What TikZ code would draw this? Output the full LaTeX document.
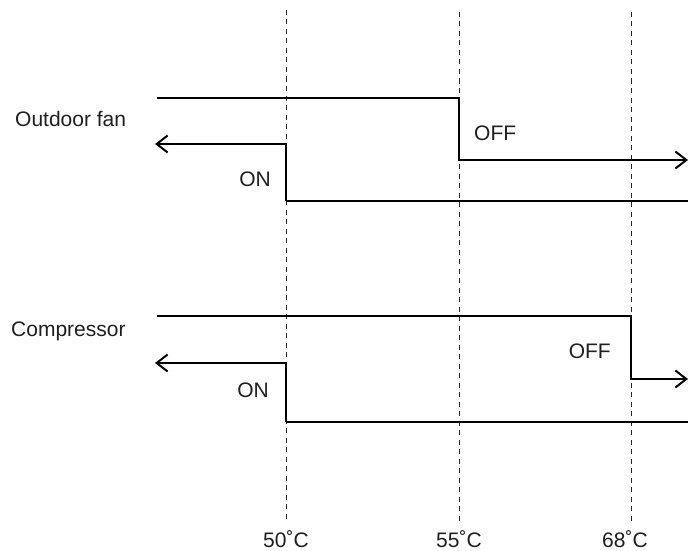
\documentclass[tikz,border=0pt]{standalone}
\usepackage{fontspec}
\setmainfont{Liberation Sans}
\usetikzlibrary{arrows.meta}
\begin{document}
\begin{tikzpicture}[x=1pt,y=-1pt,
  sig/.style={line width=2.2pt, line join=miter},
  sigarrow/.style={sig, -{Straight Barb[length=11pt,width=17pt,line width=2pt]}},
  guide/.style={line width=0.9pt, dash pattern=on 5pt off 4.5pt, color=black!85},
  lbl/.style={inner sep=0pt, font=\fontsize{21}{24}\selectfont, text=black!88}]
\useasboundingbox (0,0) rectangle (688,551);

% guide lines
\coordinate (g1t) at (286,10);  \coordinate (g1b) at (286,522);
\coordinate (g2t) at (459,12);  \coordinate (g2b) at (459,522);
\coordinate (g3t) at (631,12);  \coordinate (g3b) at (631,522);
\draw[guide] (g1t) -- (g1b);
\draw[guide] (g2t) -- (g2b);
\draw[guide] (g3t) -- (g3b);

% Outdoor fan
\coordinate (f1a) at (157,98);
\coordinate (f1b) at (459,98);
\coordinate (f1c) at (459,160);
\coordinate (f1d) at (688,160);
\draw[sigarrow] (f1a) -- (f1b) -- (f1c) -- (f1d);
\coordinate (f2a) at (286,144);
\coordinate (f2b) at (155,144);
\coordinate (f2c) at (286,201);
\coordinate (f2d) at (690,201);
\draw[sigarrow] (f2c) -- (f2a) -- (f2b);
\draw[sig] (f2c) -- (f2d);

% Compressor
\coordinate (c1a) at (157,316);
\coordinate (c1b) at (631,316);
\coordinate (c1c) at (631,379);
\coordinate (c1d) at (688,379);
\draw[sigarrow] (c1a) -- (c1b) -- (c1c) -- (c1d);
\coordinate (c2a) at (286,363);
\coordinate (c2b) at (155,363);
\coordinate (c2c) at (286,422);
\coordinate (c2d) at (690,422);
\draw[sigarrow] (c2c) -- (c2a) -- (c2b);
\draw[sig] (c2c) -- (c2d);

% labels
\node[lbl, anchor=base west] (fan) at (15,126.5) {Outdoor fan};
\node[lbl, anchor=base west] (comp) at (11,336.5) {Compressor};
\node[lbl, anchor=base east] (on1) at (271,186) {ON};
\node[lbl, anchor=base west] (off1) at (474,140.5) {OFF};
\node[lbl, anchor=base east] (off2) at (611,358) {OFF};
\node[lbl, anchor=base east] (on2) at (269,397) {ON};
\node[lbl, anchor=base] (t50) at (286,547) {50˚C};
\node[lbl, anchor=base] (t55) at (459,547) {55˚C};
\node[lbl, anchor=base] (t68) at (625,547) {68˚C};
\end{tikzpicture}
\end{document}
